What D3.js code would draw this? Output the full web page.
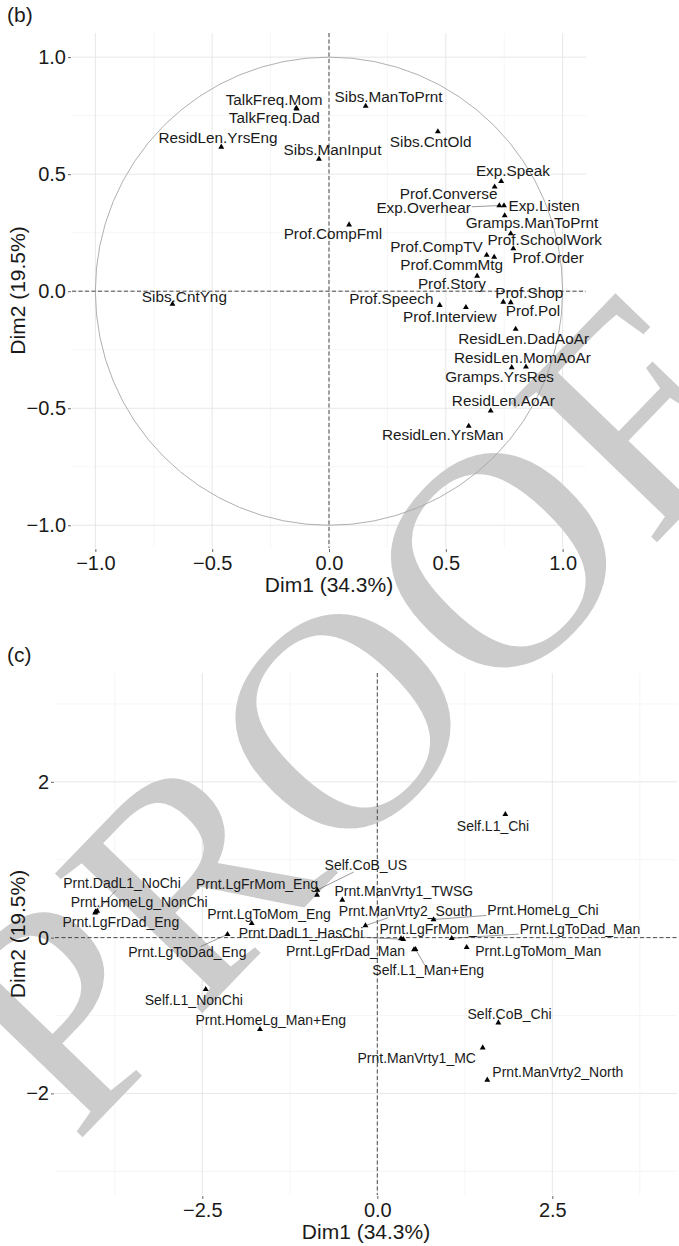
<!DOCTYPE html>
<html>
<head>
<meta charset="utf-8">
<script src="https://cdn.jsdelivr.net/npm/d3@7"></script>
<style>
  body { margin: 0; background: #fff; }
  svg text { font-family: "Liberation Sans", Arial, Helvetica, sans-serif; }
</style>
</head>
<body>
<svg id="chart" width="679" height="1246"></svg>
<script>
// ---- panel (b): variable coordinates ----
const bNames = ['TalkFreq.Mom','TalkFreq.Dad','ResidLen.YrsEng','Sibs.ManInput','Sibs.ManToPrnt','Sibs.CntOld',
  'Exp.Speak','Prof.Converse','Exp.Overhear','Exp.Listen','Gramps.ManToPrnt','Prof.SchoolWork','Prof.Order',
  'Prof.CompTV','Prof.CommMtg','Prof.Story','Prof.CompFml','Prof.Shop','Prof.Pol','Prof.Speech','Prof.Interview',
  'ResidLen.DadAoAr','ResidLen.MomAoAr','Gramps.YrsRes','ResidLen.AoAr','ResidLen.YrsMan','Sibs.CntYng'];
const bDim1 = [-0.140,-0.138,-0.461,-0.043,0.157,0.466,0.737,0.709,0.729,0.749,0.752,0.778,0.789,
  0.675,0.707,0.634,0.086,0.746,0.778,0.474,0.586,0.799,0.843,0.782,0.692,0.598,-0.670];
const bDim2 = [0.782,0.779,0.616,0.565,0.791,0.682,0.469,0.446,0.366,0.366,0.323,0.246,0.182,
  0.154,0.146,0.065,0.284,-0.046,-0.048,-0.060,-0.069,-0.162,-0.323,-0.326,-0.511,-0.576,-0.055];
// repelled label positions (data units, baseline)
const bLabX = [-0.235,-0.234,-0.475,0.015,0.255,0.435,0.787,0.512,0.405,0.921,0.869,0.923,0.938,
  0.460,0.525,0.526,0.017,0.857,0.873,0.267,0.517,0.833,0.828,0.730,0.746,0.487,-0.619];
const bLabY = [0.796,0.720,0.633,0.583,0.810,0.618,0.491,0.394,0.332,0.342,0.271,0.199,0.122,
  0.169,0.091,0.011,0.223,-0.027,-0.108,-0.055,-0.133,-0.226,-0.308,-0.389,-0.492,-0.637,-0.044];
const bSegs = ['Exp.Overhear'];
const bTicks = [-1, -0.5, 0, 0.5, 1];

// ---- panel (c): category coordinates ----
const cNames = ['Self.L1_Chi','Self.CoB_US','Prnt.LgFrMom_Eng','Prnt.DadL1_NoChi','Prnt.HomeLg_NonChi',
  'Prnt.LgFrDad_Eng','Prnt.ManVrty1_TWSG','Prnt.ManVrty2_South','Prnt.HomeLg_Chi','Prnt.LgToMom_Eng',
  'Prnt.DadL1_HasChi','Prnt.LgToDad_Eng','Prnt.LgFrMom_Man','Prnt.LgToDad_Man','Prnt.LgFrDad_Man',
  'Self.L1_Man+Eng','Prnt.LgToMom_Man','Self.CoB_Chi','Prnt.ManVrty1_MC','Prnt.ManVrty2_North',
  'Self.L1_NonChi','Prnt.HomeLg_Man+Eng'];
const cDim1 = [1.829,-0.857,-0.861,-4.023,-4.000,-4.030,-0.500,-0.169,0.803,-1.794,0.371,-2.140,
  0.339,1.063,0.524,0.546,1.277,1.729,1.506,1.571,-2.451,-1.676];
const cDim2 = [1.583,0.611,0.547,0.332,0.340,0.320,0.483,0.155,0.232,0.184,-0.022,0.042,
  -0.012,-0.009,-0.153,-0.150,-0.125,-1.092,-1.413,-1.828,-0.664,-1.177];
const cLabX = [1.653,-0.164,-1.719,-3.647,-3.401,-3.664,0.379,0.403,2.367,-1.547,-1.090,-2.714,
  0.921,2.896,-0.454,0.727,2.300,1.889,0.563,2.579,-2.621,-1.521];
const cLabY = [1.372,0.868,0.620,0.633,0.397,0.142,0.534,0.281,0.290,0.245,-0.005,-0.243,
  0.044,0.044,-0.230,-0.480,-0.236,-1.045,-1.614,-1.786,-0.865,-1.122];
const cSegs = ['Self.CoB_US','Prnt.DadL1_NoChi','Prnt.ManVrty2_South','Prnt.HomeLg_Chi',
  'Prnt.DadL1_HasChi','Prnt.LgToDad_Eng','Prnt.LgToDad_Man','Self.L1_Man+Eng'];
const cTicksX = [-2.5, 0, 2.5];
const cTicksY = [-2, 0, 2];

const xTitle = 'Dim1 (34.3%)';
const yTitle = 'Dim2 (19.5%)';
const watermark = 'PROOF';

// layers: grid under the watermark, marks and text over it
const svg = d3.select('#chart');
svg.append('rect').attr('width', 679).attr('height', 1246).attr('fill', '#fff');
const gridLayer = svg.append('g');
const markLayer = svg.append('g');
const topLayer = svg.append('g');

function panel(cfg) {
  const x = d3.scaleLinear().domain(cfg.xDom).range([cfg.left, cfg.right]);
  const y = d3.scaleLinear().domain(cfg.yDom).range([cfg.bottom, cfg.top]);

  // grid (minor then major)
  const vLines = (vals, col, w) => gridLayer.append('g').selectAll('line').data(vals).join('line')
    .attr('x1', d => x(d)).attr('x2', d => x(d)).attr('y1', cfg.top).attr('y2', cfg.bottom)
    .attr('stroke', col).attr('stroke-width', w);
  const hLines = (vals, col, w) => gridLayer.append('g').selectAll('line').data(vals).join('line')
    .attr('y1', d => y(d)).attr('y2', d => y(d)).attr('x1', cfg.left).attr('x2', cfg.right)
    .attr('stroke', col).attr('stroke-width', w);
  vLines(cfg.xMinor, '#f0f0f0', 0.6);
  hLines(cfg.yMinor, '#f0f0f0', 0.6);
  vLines(cfg.xTicks, '#e4e4e4', 0.9);
  hLines(cfg.yTicks, '#e4e4e4', 0.9);

  const g = topLayer.append('g');

  // unit circle for correlation plot
  if (cfg.circle) {
    g.append('ellipse')
      .attr('cx', x(0)).attr('cy', y(0))
      .attr('rx', x(1) - x(0)).attr('ry', y(0) - y(1))
      .attr('fill', 'none').attr('stroke', '#a6a6a6').attr('stroke-width', 0.9);
  }

  // dashed zero lines
  g.append('line').attr('x1', cfg.left).attr('x2', cfg.right).attr('y1', y(0)).attr('y2', y(0))
    .attr('stroke', '#222').attr('stroke-width', 0.8).attr('stroke-dasharray', '4,2.5');
  g.append('line').attr('y1', cfg.top).attr('y2', cfg.bottom).attr('x1', x(0)).attr('x2', x(0))
    .attr('stroke', '#222').attr('stroke-width', 0.8).attr('stroke-dasharray', '4,2.5');

  // axes
  const axisY = d3.axisLeft(y).tickValues(cfg.yTicks).tickFormat(cfg.fmtY).tickSize(3).tickPadding(2);
  const axisX = d3.axisBottom(x).tickValues(cfg.xTicks).tickFormat(cfg.fmtX).tickSize(3).tickPadding(4);
  const ay = g.append('g').attr('transform', `translate(${cfg.left - 1},0)`).call(axisY);
  const ax = g.append('g').attr('transform', `translate(0,${cfg.bottom + 1})`).call(axisX);
  [ax, ay].forEach(a => {
    a.select('.domain').remove();
    a.selectAll('line').attr('stroke', '#666');
    a.selectAll('text').attr('fill', '#1a1a1a').style('font-size', '20px')
      .style('font-family', '"Liberation Sans", Arial, sans-serif');
  });

  // axis titles
  g.append('text').attr('x', (cfg.left + cfg.right) / 2).attr('y', cfg.bottom + 44)
    .attr('text-anchor', 'middle').attr('fill', '#1a1a1a').style('font-size', '21px').text(xTitle);
  g.append('text').attr('transform', `translate(25,${(cfg.top + cfg.bottom) / 2}) rotate(-90)`)
    .attr('text-anchor', 'middle').attr('fill', '#1a1a1a').style('font-size', '21px').text(yTitle);
  g.append('text').attr('x', 7).attr('y', cfg.top - 11).attr('fill', '#1a1a1a')
    .style('font-size', '21px').text(cfg.tag);

  // points + labels
  const data = cfg.names.map((n, i) => ({
    name: n, px: x(cfg.d1[i]), py: y(cfg.d2[i]), lx: x(cfg.lx[i]), ly: y(cfg.ly[i]),
    seg: cfg.segs.includes(n)
  }));

  const segG = g.append('g');
  g.append('g').selectAll('path').data(data).join('path')
    .attr('transform', d => `translate(${d.px},${d.py})`)
    .attr('d', d3.symbol(d3.symbolTriangle, 15))
    .attr('fill', '#000');

  const labels = g.append('g').selectAll('text').data(data).join('text')
    .attr('x', d => d.lx).attr('y', d => d.ly)
    .attr('text-anchor', 'middle').attr('fill', '#1a1a1a')
    .style('font-size', cfg.labSize + 'px')
    .text(d => d.name);

  // segments from label box edge to point (ggrepel style)
  labels.filter(d => d.seg).each(function(d) {
    const bb = this.getBBox();
    const cx = bb.x + bb.width / 2, cy = bb.y + bb.height / 2 + 1;
    const dx = d.px - cx, dy = d.py - cy;
    const tx = dx !== 0 ? (bb.width / 2 + 1) / Math.abs(dx) : Infinity;
    const ty = dy !== 0 ? (bb.height / 2 - 2) / Math.abs(dy) : Infinity;
    const t = Math.min(tx, ty, 1);
    segG.append('line')
      .attr('x1', cx + dx * t).attr('y1', cy + dy * t)
      .attr('x2', d.px).attr('y2', d.py)
      .attr('stroke', '#555').attr('stroke-width', 0.6);
  });
}

// panel (b)
panel({
  tag: '(b)', left: 72, right: 586, top: 33, bottom: 548,
  xDom: [-1.1, 1.1], yDom: [-1.097, 1.103],
  xTicks: bTicks, yTicks: bTicks,
  xMinor: [-0.75, -0.25, 0.25, 0.75], yMinor: [-0.75, -0.25, 0.25, 0.75],
  fmtX: d3.format('.1f'), fmtY: d3.format('.1f'),
  circle: true, labSize: 15.3,
  names: bNames, d1: bDim1, d2: bDim2, lx: bLabX, ly: bLabY, segs: bSegs
});

// panel (c)
panel({
  tag: '(c)', left: 55, right: 677, top: 673, bottom: 1195,
  xDom: [-4.604, 4.281], yDom: [-3.304, 3.397],
  xTicks: cTicksX, yTicks: cTicksY,
  xMinor: [-3.75, -1.25, 1.25, 3.75], yMinor: [-3, -1, 1, 3],
  fmtX: d3.format('.1f'), fmtY: d3.format('d'),
  circle: false, labSize: 14,
  names: cNames, d1: cDim1, d2: cDim2, lx: cLabX, ly: cLabY, segs: cSegs
});

// watermark
markLayer.append('text')
  .attr('transform', 'translate(75,1145) rotate(-46)')
  .attr('fill', '#cccccc')
  .style('font-family', '"Liberation Serif", "Times New Roman", serif')
  .style('font-size', '310px')
  .text(watermark);
</script>
</body>
</html>
